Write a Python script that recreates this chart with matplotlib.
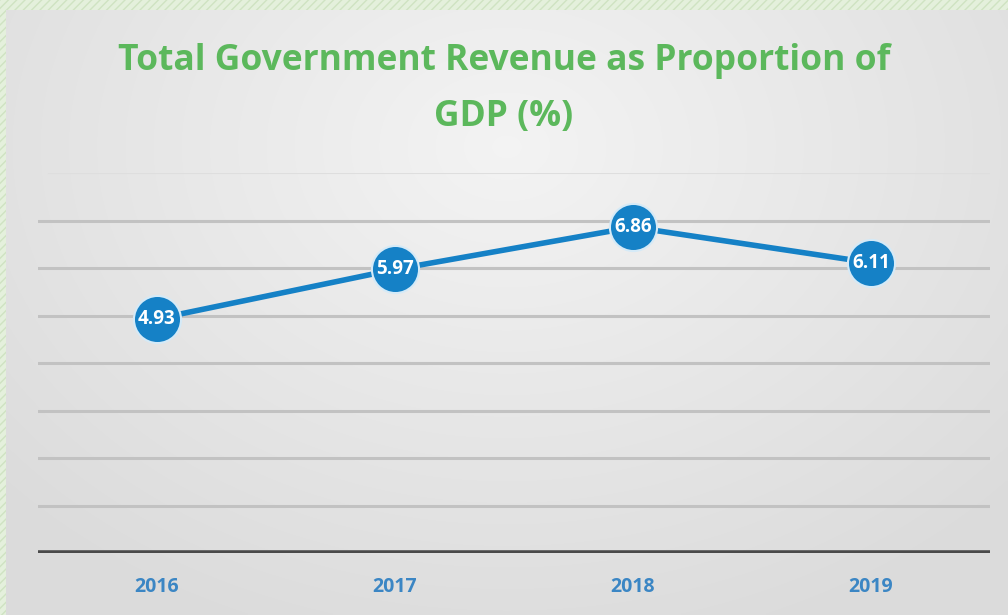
import numpy as np
import matplotlib
matplotlib.use("Agg")
import matplotlib.pyplot as plt

years = ["2016", "2017", "2018", "2019"]
values = [4.93, 5.97, 6.86, 6.11]
value_labels = ["4.93", "5.97", "6.86", "6.11"]
title = "Total Government Revenue as Proportion of\nGDP (%)"

W, H = 1008, 615
fig = plt.figure(figsize=(W / 100, H / 100), dpi=100)
fig.patch.set_facecolor("#e4f0dc")

# green patterned border
border = fig.add_axes([0, 0, 1, 1])
border.set_axis_off()
border.add_patch(plt.Rectangle((0, 0), 1, 1, transform=border.transAxes,
                               facecolor="#e4f0dc", hatch="////", edgecolor="#cfe3c2",
                               linewidth=0))

# gray gradient panel
px0, py0 = 6 / W, 0
pw, ph = 1 - px0, 1 - 10 / H
bg = fig.add_axes([px0, py0, pw, ph])
bg.set_axis_off()
yy, xx = np.mgrid[-1:1:200j, -1:1:300j]
r = np.sqrt((xx * 0.95) ** 2 + ((yy + 0.55) * 0.75) ** 2)
grad = 0.955 - 0.095 * np.clip(r, 0, 1.3) / 1.3
bg.imshow(np.dstack([grad, grad, grad]), aspect="auto", extent=[0, 1, 0, 1],
          interpolation="bilinear")
bg.set_xlim(0, 1)
bg.set_ylim(0, 1)

# plot axes
left, right = 38 / W, 990 / W
bottom, top = (H - 553) / H, (H - 173) / H
ax = fig.add_axes([left, bottom, right - left, top - bottom])
ax.patch.set_alpha(0)
x = np.arange(len(years))
ax.set_xlim(-0.5, len(years) - 0.5)
ax.set_ylim(0, 8)
for v in range(1, 8):
    ax.axhline(v, color="#c2c2c2", lw=2.2, zorder=1)
ax.axhline(8, xmin=0.012, color="#dedede", lw=1.5, zorder=1)
ax.axhline(0, color="#4a4a4a", lw=4, zorder=2)
for s in ax.spines.values():
    s.set_visible(False)
ax.set_yticks([])
ax.set_xticks(x)
ax.set_xticklabels(years, fontsize=14, fontweight="bold", color="#3b86c4",
                   fontfamily="Open Sans")
ax.tick_params(axis="x", length=0, pad=17)

ax.plot(x, values, color="#1581c6", lw=4, zorder=3, solid_capstyle="round")
ax.scatter(x, values, s=1150, color="#1581c6", edgecolors="#d5eaf7", linewidths=1.5,
           zorder=4)
for xi, v, lab in zip(x, values, value_labels):
    ax.text(xi, v, lab, ha="center", va="center", color="white", fontsize=13.5,
            fontweight="bold", fontfamily="Open Sans", zorder=5)

fig.text(0.5, (H - 89) / H, title, ha="center", va="center", color="#5cb85c",
         fontsize=25.5, fontweight="bold", fontfamily="Open Sans", linespacing=1.75)

fig.savefig("out.png", dpi=100)
